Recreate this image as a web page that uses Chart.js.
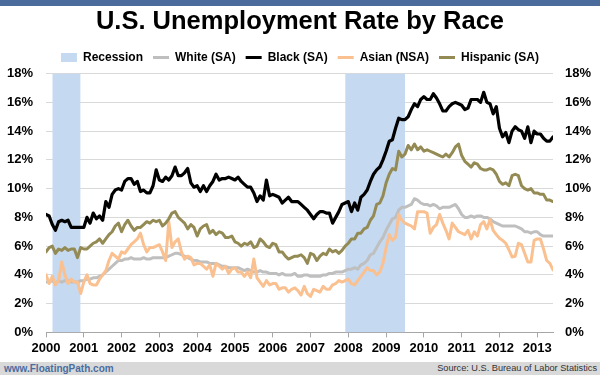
<!DOCTYPE html>
<html>
<head>
<meta charset="utf-8">
<script src="https://cdn.jsdelivr.net/npm/chart.js@4.4.1/dist/chart.umd.min.js"></script>
<style>
  html, body { margin: 0; padding: 0; background: #ffffff; }
  #wrap { position: relative; width: 600px; height: 375px; overflow: hidden; font-family: "Liberation Sans", Arial, sans-serif; }
  #topband { position: absolute; left: 0; top: 0; width: 600px; height: 6px; background: #4a6b9b; }
  #chartbox { position: absolute; left: 0; top: 0; width: 600px; height: 375px; }
  #footer { position: absolute; left: 0; top: 362px; width: 600px; height: 13px; background: #d9d9d9; }
  #site { position: absolute; left: 4px; top: 0px; font-size: 10px; line-height: 13px; font-weight: bold; color: #4a6d9f; }
  #source { position: absolute; right: 3px; top: 0px; font-size: 9.2px; line-height: 13px; color: #333333; }
</style>
</head>
<body>
<div id="wrap">
  <div id="chartbox"><canvas id="c" width="600" height="375"></canvas></div>
  <div id="topband"></div>
  <div id="footer"><span id="site">www.FloatingPath.com</span><span id="source">Source: U.S. Bureau of Labor Statistics</span></div>
</div>
<script>
// ---- Data (monthly, Jan 2000 - Jun 2013) ----
const startYear = 2000;
const yearTicks = [2000, 2001, 2002, 2003, 2004, 2005, 2006, 2007, 2008, 2009, 2010, 2011, 2012, 2013];
const seriesNames = ["Recession", "White (SA)", "Black (SA)", "Asian (NSA)", "Hispanic (SA)"];
// recession periods [start "YYYY-MM", end "YYYY-MM"] as shown on the chart
const recessions = [["2000-03", "2000-11"], ["2007-12", "2009-06"]];

const white = [
  3.5, 3.5, 3.6, 3.4, 3.6, 3.5, 3.6, 3.6, 3.5, 3.5, 3.5, 3.6,
  3.6, 3.7, 3.7, 3.8, 3.8, 3.9, 4.0, 4.2, 4.4, 4.6, 4.8, 5.0,
  5.0, 5.1, 5.1, 5.2, 5.1, 5.1, 5.1, 5.2, 5.1, 5.1, 5.2, 5.2,
  5.2, 5.2, 5.2, 5.3, 5.4, 5.5, 5.5, 5.4, 5.3, 5.2, 5.1, 5.0,
  5.0, 4.9, 4.9, 4.9, 4.8, 4.8, 4.8, 4.7, 4.6, 4.6, 4.5, 4.5,
  4.5, 4.5, 4.4, 4.3, 4.4, 4.3, 4.2, 4.2, 4.3, 4.2, 4.2, 4.1,
  4.1, 4.1, 4.0, 4.1, 4.0, 4.0, 4.0, 4.1, 3.9, 3.9, 4.0, 4.0,
  3.9, 3.9, 3.9, 3.9, 4.0, 4.0, 4.1, 4.1, 4.2, 4.2, 4.2, 4.3,
  4.4, 4.4, 4.5, 4.4, 4.7, 4.8, 5.0, 5.4, 5.5, 5.9, 6.3, 6.6,
  7.1, 7.5, 7.9, 8.0, 8.5, 8.7, 8.7, 8.8, 8.9, 9.3, 9.2, 9.0,
  8.9, 8.9, 8.8, 8.9, 8.8, 8.6, 8.7, 8.7, 8.7, 8.8, 8.9, 8.6,
  8.2, 8.0, 8.0, 8.1, 8.0, 8.1, 8.1, 8.0, 8.0, 7.9, 7.7, 7.6,
  7.5, 7.4, 7.4, 7.4, 7.4, 7.4, 7.3, 7.2, 7.0, 7.0, 6.9, 7.0,
  7.0, 6.8, 6.7, 6.7, 6.7, 6.7
];
const black = [
  8.2, 8.1, 7.5, 7.1, 7.7, 7.8, 7.7, 7.8, 7.3, 7.3, 7.3, 7.3,
  7.3, 8.0, 7.6, 8.3, 7.9, 8.1, 7.8, 9.1, 8.7, 9.6, 9.9, 10.0,
  9.9, 10.5, 10.7, 10.7, 10.3, 10.5, 9.8, 9.9, 9.7, 9.7, 10.2, 11.3,
  10.6, 10.5, 10.8, 10.6, 10.9, 11.5, 10.9, 10.9, 11.1, 11.4, 10.4, 10.1,
  10.2, 9.8, 10.2, 9.8, 10.2, 10.5, 11.0, 10.6, 10.7, 10.7, 10.8, 10.7,
  10.6, 10.8, 10.5, 10.3, 10.1, 10.1, 9.7, 9.1, 9.5, 9.2, 10.6, 9.5,
  9.6, 9.5, 9.4, 9.0, 9.2, 9.4, 9.1, 9.1, 9.1, 8.9, 8.7, 8.5,
  8.2, 7.9, 8.2, 8.4, 8.4, 8.3, 8.3, 7.6, 8.0, 8.4, 8.9, 9.0,
  9.1, 8.4, 9.0, 8.5, 9.4, 9.6, 9.9, 10.5, 11.0, 11.3, 11.5, 12.0,
  12.6, 13.3, 13.4, 14.2, 14.9, 14.8, 14.8, 15.0, 15.5, 15.9, 15.7, 16.2,
  16.4, 16.2, 16.2, 16.6, 16.3, 15.9, 15.4, 15.4, 15.7, 15.9, 16.0, 15.9,
  15.8, 15.5, 15.6, 16.2, 16.2, 16.2, 16.0, 16.7, 16.0, 15.9, 15.2, 15.7,
  14.2, 13.6, 13.9, 13.2, 14.0, 14.3, 14.1, 14.0, 13.5, 14.3, 13.2, 14.0,
  13.8, 13.8, 13.5, 13.3, 13.3, 13.6
];
const asian = [
  4.0, 3.4, 3.9, 3.3, 3.6, 4.9, 4.0, 3.4, 3.7, 3.5, 3.5, 2.7,
  3.5, 4.0, 3.4, 3.3, 3.3, 3.7, 4.0, 4.3, 5.0, 5.5, 5.3, 5.1,
  5.6, 5.5, 5.8, 6.1, 6.3, 6.5, 6.9, 6.1, 5.6, 5.9, 5.9, 6.0,
  6.1, 5.6, 5.0, 7.7, 5.9, 6.3, 6.5, 5.6, 5.1, 5.3, 5.2, 4.7,
  4.8, 4.8, 4.6, 4.4, 4.7, 3.9, 4.8, 4.6, 4.4, 4.6, 4.1, 4.4,
  4.5, 4.2, 4.2, 3.9, 4.2, 3.8, 5.1, 3.8, 3.5, 3.2, 3.6, 3.3,
  3.4, 3.4, 3.0, 3.1, 3.1, 2.8, 3.0, 3.1, 2.9, 2.6, 3.2, 2.7,
  2.5, 3.0, 2.9, 2.8, 3.2, 3.0, 3.0, 3.3, 3.4, 3.6, 3.5, 3.6,
  3.7, 3.4, 3.3, 3.6, 3.9, 4.2, 4.5, 4.3, 4.3, 4.0, 4.2, 4.8,
  5.9, 6.8, 6.4, 6.6, 8.2, 7.8, 7.6, 7.5, 7.4, 7.2, 8.4, 8.4,
  8.4, 8.3, 6.9, 7.3, 7.5, 8.2, 7.6, 7.1, 6.5, 7.6, 7.3, 7.0,
  6.9, 6.8, 7.1, 6.5, 7.0, 6.7, 7.5, 7.7, 7.2, 7.85, 7.1, 6.8,
  6.55, 6.4, 6.2, 5.75, 5.25, 5.3, 6.2, 6.1, 5.5, 4.9, 4.9, 6.4,
  6.5, 6.5, 5.8, 5.0, 4.8, 4.35
];
const hispanic = [
  5.6, 5.9, 6.0, 5.5, 5.8, 5.7, 5.9, 5.7, 5.8, 5.8, 5.2, 5.9,
  5.8, 5.8, 6.0, 6.2, 6.3, 6.5, 6.2, 6.5, 6.8, 7.0, 7.4, 7.6,
  7.0, 7.5, 7.8, 7.4, 7.1, 7.3, 7.3, 7.5, 7.7, 7.6, 7.8, 7.7,
  7.8, 7.4, 7.6, 7.9, 8.3, 8.4, 8.0, 7.8, 7.6, 7.2, 7.5, 7.3,
  6.7, 7.2, 7.4, 7.5, 6.9, 7.1, 6.8, 7.0, 6.9, 6.6, 6.6, 6.7,
  6.3, 6.2, 6.0, 6.2, 6.1, 6.3, 5.9, 6.0, 6.5, 6.3, 6.0, 5.9,
  6.2, 6.1, 5.6, 5.6, 5.3, 5.1, 5.2, 5.3, 5.3, 5.4, 5.2, 4.8,
  5.5, 5.4, 5.0, 5.3, 5.5, 5.4, 5.8, 5.6, 5.7, 5.5, 5.7, 6.0,
  6.2, 6.5, 6.5, 6.9, 6.9, 7.2, 7.3, 7.8, 8.1, 8.9, 9.0, 9.5,
  10.4, 11.0, 11.4, 11.3, 12.6, 12.2, 12.4, 13.0, 12.7, 13.1, 12.7, 12.9,
  12.6, 12.7, 12.6, 12.5, 12.4, 12.3, 12.2, 12.4, 12.2, 12.5, 12.9, 13.1,
  12.3, 11.9, 11.7, 11.5, 11.8, 11.7, 11.4, 11.3, 11.3, 11.4, 11.3, 11.0,
  10.5, 10.3, 10.4, 10.2, 10.9, 11.0, 10.9, 10.2, 10.0, 9.9, 10.0, 9.7,
  9.7, 9.6, 9.6, 9.2, 9.2, 9.1
];

// ---- build points ----
const monthX = i => startYear + i / 12;
const toPoints = arr => arr.map((v, i) => ({ x: monthX(i), y: v }));
const monthIndex = s => { const [y, m] = s.split('-').map(Number); return (y - startYear) * 12 + (m - 1); };
const recessionPoints = [];
recessions.forEach(([a, b], k) => {
  if (k > 0) recessionPoints.push({ x: monthX(monthIndex(a) - 0.5), y: null });
  recessionPoints.push({ x: monthX(monthIndex(a)), y: 18 });
  recessionPoints.push({ x: monthX(monthIndex(b) + 1), y: 18 });
});

const FONT = "'Liberation Sans', Arial, sans-serif";
const colors = { rec: '#c5d9f1', white: '#bfbfbf', black: '#000000', asian: '#fac090', hisp: '#948a54' };

const lineDs = (label, data, color, order, w) => ({
  type: 'line', label, data: toPoints(data), borderColor: color, backgroundColor: color,
  borderWidth: w, pointRadius: 0, tension: 0, fill: false, order, borderJoinStyle: 'round', borderCapStyle: 'round'
});

new Chart(document.getElementById('c'), {
  type: 'line',
  data: {
    datasets: [
      { type: 'line', label: seriesNames[0], data: recessionPoints, borderWidth: 0, borderColor: 'rgba(0,0,0,0)',
        backgroundColor: colors.rec, fill: 'origin', pointRadius: 0, spanGaps: false, order: 10 },
      lineDs(seriesNames[1], white, colors.white, 4, 3),
      lineDs(seriesNames[2], black, colors.black, 3, 3.2),
      lineDs(seriesNames[3], asian, colors.asian, 2, 3),
      lineDs(seriesNames[4], hispanic, colors.hisp, 1, 3)
    ]
  },
  options: {
    responsive: false,
    animation: false,
    devicePixelRatio: 1,
    layout: { padding: { top: 6, bottom: 16, left: 0, right: 0 } },
    plugins: {
      title: {
        display: true, text: 'U.S. Unemployment Rate by Race', color: '#000',
        font: { family: FONT, size: 25.5, weight: 'bold' }, padding: { top: 1, bottom: 4 }
      },
      legend: {
        display: true, position: 'top',
        labels: {
          usePointStyle: true, pointStyleWidth: 16, boxHeight: 9, padding: 10, color: '#000',
          font: { family: FONT, size: 12, weight: 'bold' },
          generateLabels: (chart) => chart.data.datasets.map((ds, i) => ({
            text: ds.label,
            fillStyle: ds.backgroundColor,
            strokeStyle: i === 0 ? ds.backgroundColor : ds.borderColor,
            lineWidth: i === 0 ? 0 : 3,
            pointStyle: i === 0 ? 'rect' : 'line',
            hidden: false, datasetIndex: i, fontColor: '#000'
          }))
        }
      },
      tooltip: { enabled: false }
    },
    scales: {
      x: {
        type: 'linear', min: monthX(0), max: monthX(white.length - 1),
        grid: { display: true, drawOnChartArea: false, drawTicks: true, tickLength: 5, color: '#a6a6a6' },
        border: { display: true, color: '#a6a6a6', width: 1 },
        ticks: {
          stepSize: 1, includeBounds: false, autoSkip: false, maxRotation: 0, padding: 3, color: '#000',
          font: { family: FONT, size: 13, weight: 'bold' },
          callback: v => (yearTicks.includes(v) ? String(v) : '')
        }
      },
      y: {
        position: 'left', min: 0, max: 18,
        afterFit: s => { s.width = 46; },
        grid: { color: '#d9d9d9', drawTicks: false, lineWidth: 1 },
        border: { display: false },
        ticks: { stepSize: 2, padding: 13, color: '#000', font: { family: FONT, size: 13, weight: 'bold' }, callback: v => v + '%' }
      },
      y2: {
        position: 'right', min: 0, max: 18,
        afterFit: s => { s.width = 47; },
        grid: { drawOnChartArea: false, drawTicks: false },
        border: { display: false },
        ticks: { stepSize: 2, padding: 12, color: '#000', font: { family: FONT, size: 13, weight: 'bold' }, callback: v => v + '%' }
      }
    }
  }
});
</script>
</body>
</html>
